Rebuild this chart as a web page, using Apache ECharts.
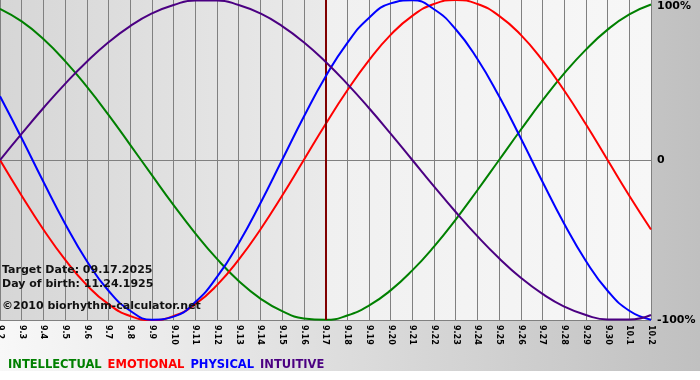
<!DOCTYPE html>
<html>
<head>
<meta charset="utf-8">
<script src="https://cdn.jsdelivr.net/npm/echarts@6/dist/echarts.min.js"></script>
<style>
html,body{margin:0;padding:0;background:#fff;}
#chart{width:700px;height:380px;}
</style>
</head>
<body>
<div id="chart"></div>
<script>
var categories = ['9.2','9.3','9.4','9.5','9.6','9.7','9.8','9.9','9.10','9.11','9.12','9.13','9.14','9.15','9.16','9.17','9.18','9.19','9.20','9.21','9.22','9.23','9.24','9.25','9.26','9.27','9.28','9.29','9.30','10.1','10.2'];
var intellectual = [94.5,86.6,75.6,61.8,45.8,28.2,9.5,-9.5,-28.2,-45.8,-61.8,-75.6,-86.6,-94.5,-99.0,-99.9,-97.2,-91.0,-81.5,-69.0,-54.1,-37.2,-18.9,0,18.9,37.2,54.1,69.0,81.5,91.0,97.2];
var emotional = [0,-22.3,-43.4,-62.3,-78.2,-90.1,-97.5,-100,-97.5,-90.1,-78.2,-62.3,-43.4,-22.3,0,22.3,43.4,62.3,78.2,90.1,97.5,100,97.5,90.1,78.2,62.3,43.4,22.3,0,-22.3,-43.4];
var physical = [39.8,13.6,-13.6,-39.8,-63.1,-81.7,-94.2,-99.8,-97.9,-88.8,-73.1,-52.0,-27.0,0,27.0,52.0,73.1,88.8,97.9,99.8,94.2,81.7,63.1,39.8,13.6,-13.6,-39.8,-63.1,-81.7,-94.2,-99.8];
var intuitive = [0,16.5,32.5,47.6,61.4,73.6,83.7,91.6,96.9,99.7,99.7,96.9,91.6,83.7,73.6,61.4,47.6,32.5,16.5,0,-16.5,-32.5,-47.6,-61.4,-73.6,-83.7,-91.6,-96.9,-99.7,-99.7,-96.9];
var yTicks = ['-100%','0','100%'];
var targetDay = '9.17';
var seriesNames = ['INTELLECTUAL','EMOTIONAL','PHYSICAL','INTUITIVE'];
var seriesColors = ['#008000','#ff0000','#0000ff','#4b0082'];
var infoLines = ['Target Date: 09.17.2025','Day of birth: 11.24.1925'];
var copyright = '\u00a92010 biorhythm-calculator.net';

var FONT = 'DejaVu Sans, Verdana, sans-serif';
var chart = echarts.init(document.getElementById('chart'), null, {renderer:'canvas'});

function lin(c1,c2){return {type:'linear',x:0,y:0,x2:1,y2:0,colorStops:[{offset:0,color:c1},{offset:1,color:c2}]};}

var split = categories.indexOf(targetDay)/(categories.length-1);
var gridBg = {type:'linear',x:0,y:0,x2:1,y2:0,colorStops:[
  {offset:0,color:'#d6d6d6'},{offset:split,color:'#eaeaea'},
  {offset:split,color:'#f0f0f0'},{offset:1,color:'#f7f7f7'}]};

var values = [intellectual, emotional, physical, intuitive];
var series = [];
values.forEach(function(v,i){
  series.push({
    name:seriesNames[i], type:'line', data:v, smooth:0.5, symbol:'none',
    lineStyle:{color:seriesColors[i], width:2}, itemStyle:{color:seriesColors[i]},
    z:3+i, animation:false,
    markLine: i===3 ? {silent:true, symbol:'none', label:{show:false},
      lineStyle:{color:'#800000', width:2, type:'solid'},
      data:[{xAxis:targetDay}]} : undefined
  });
});

chart.setOption({
  animation:false,
  backgroundColor: lin('#f8f8f8','#c0c0c0'),
  grid:{left:0, right:49, top:0, bottom:60, containLabel:false, outerBoundsMode:'none',
    show:true, borderWidth:0, backgroundColor:gridBg},
  xAxis:{
    type:'category', data:categories, boundaryGap:false,
    axisLine:{show:true, lineStyle:{color:'#808080', width:1}},
    axisTick:{show:true, interval:0, length:4, lineStyle:{color:'#808080'}},
    splitLine:{show:true, interval:0, lineStyle:{color:'#808080', width:1}},
    axisLabel:{interval:0, rotate:-90, margin:5, color:'#000', fontFamily:FONT, fontWeight:'bold', fontSize:8}
  },
  yAxis:{
    type:'value', position:'right', min:-100, max:100, interval:100,
    axisLine:{show:false}, axisTick:{show:false},
    splitLine:{show:true, lineStyle:{color:['#808080','#808080','rgba(0,0,0,0)'], width:1}},
    axisLabel:{margin:6, color:'#000', fontFamily:FONT, fontWeight:'bold', fontSize:11,
      formatter:function(v){var s = v===100?yTicks[2]:(v===0?yTicks[1]:yTicks[0]); return v===100?'{t|'+s+'}':s;},
      rich:{t:{padding:[13,0,0,0], fontFamily:FONT, fontWeight:'bold', fontSize:11, color:'#000'}}}
  },
  legend:{
    left:-2, top:354, icon:'none', itemWidth:0, itemHeight:0, itemGap:1,
    selectedMode:false,
    data:seriesNames.map(function(n,i){return {name:n, textStyle:{color:seriesColors[i]}};}),
    textStyle:{fontFamily:FONT, fontSize:11.5, fontWeight:'bold', padding:[0,0,0,0]}
  },
  graphic:[
    {type:'rect', left:0, top:371, shape:{width:700, height:9}, style:{fill:'#ffffff'}, z:-10, silent:true},
    {type:'text', left:2, top:265, z:100, style:{text:infoLines[0], font:'bold 11px '+FONT, fill:'#111'}},
    {type:'text', left:2, top:279, z:100, style:{text:infoLines[1], font:'bold 11px '+FONT, fill:'#111'}},
    {type:'text', left:2, top:301, z:100, style:{text:copyright, font:'bold 11px '+FONT, fill:'#111'}}
  ],
  series:series
});
</script>
</body>
</html>
